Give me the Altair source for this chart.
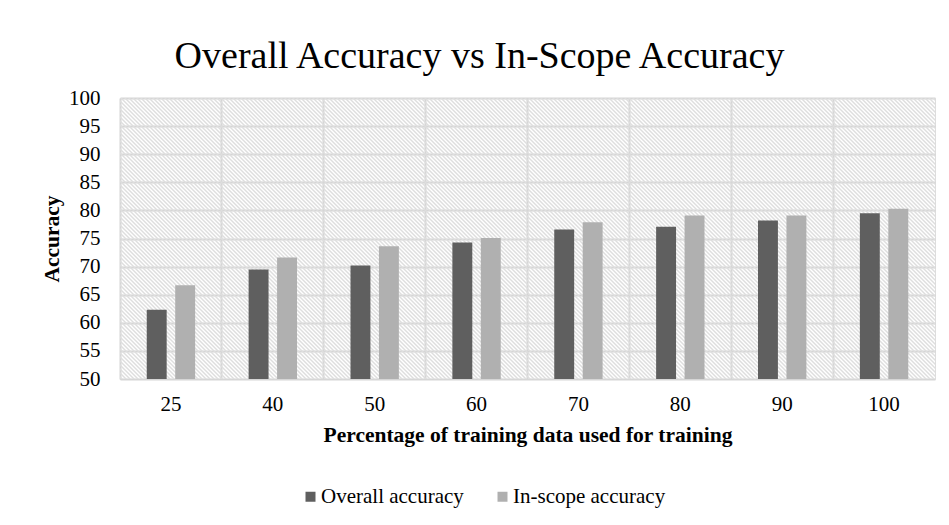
import altair as alt
import pandas as pd

# ---- data ----
pct = ["25", "40", "50", "60", "70", "80", "90", "100"]
overall = [62.3, 69.5, 70.2, 74.3, 76.6, 77.1, 78.2, 79.5]
inscope = [66.7, 71.6, 73.6, 75.1, 77.9, 79.1, 79.1, 80.3]
series = ["Overall accuracy", "In-scope accuracy"]
colors = ["#5f5f5f", "#b0b0b0"]
y_ticks = [50, 55, 60, 65, 70, 75, 80, 85, 90, 95, 100]

rows = []
for p, o, i in zip(pct, overall, inscope):
    rows.append({"pct": p, "series": series[0], "value": o})
    rows.append({"pct": p, "series": series[1], "value": i})
df = pd.DataFrame(rows)

W, H = 815, 281
FONT = "Liberation Serif"

# ---- diagonal hatch for the plot background (style only) ----
period = 4.0
n = int((W + H) / period)
stops = []
for k in range(2 * n + 1):
    off = k / (2 * n)
    col = "rgba(222,222,222,0)" if k % 2 == 0 else "rgba(222,222,222,1)"
    stops.append({"offset": round(off, 5), "color": col})
c = (W + H) / (W * W + H * H)
gx, gy = c * W, -c * H
hatch = {"gradient": "linear", "x1": 0, "y1": 1,
         "x2": round(gx, 5), "y2": round(1 + gy, 5), "stops": stops}

bg = alt.Chart(pd.DataFrame({"a": [0]})).mark_rect(fill=hatch, strokeWidth=0).encode(
    x=alt.value(0), x2=alt.value("width"), y=alt.value(0), y2=alt.value("height")
)

bars = alt.Chart(df).mark_bar().encode(
    x=alt.X("pct:N", sort=pct,
            scale=alt.Scale(paddingInner=0, paddingOuter=0),
            axis=alt.Axis(title="Percentage of training data used for training",
                          labelAngle=0, grid=True, bandPosition=0,
                          gridColor="#d6d6d6", gridWidth=2,
                          ticks=False, domain=False, labelPadding=14,
                          labelFontSize=21, labelFont=FONT, labelColor="#000000",
                          titleFontSize=21.5, titleFont=FONT, titleFontWeight="bold",
                          titleColor="#000000", titleBaseline="middle", titleY=56)),
    xOffset=alt.XOffset("series:N", sort=series,
                        scale=alt.Scale(paddingInner=0.3, paddingOuter=0.94)),
    y=alt.Y("value:Q",
            scale=alt.Scale(domain=[50, 100], zero=False, nice=False),
            axis=alt.Axis(title="Accuracy", values=y_ticks, grid=True,
                          gridColor="#d6d6d6", gridWidth=2,
                          ticks=False, domain=False, labelPadding=20,
                          labelFontSize=21, labelFont=FONT, labelColor="#000000",
                          titleFontSize=21.5, titleFont=FONT, titleFontWeight="bold",
                          titleColor="#000000", titleAngle=-90,
                          titleBaseline="middle", titleAlign="center",
                          titleX=-68, titleY=H / 2)),
    y2=alt.datum(50),
    color=alt.Color("series:N", sort=series,
                    scale=alt.Scale(domain=series, range=colors),
                    legend=alt.Legend(title=None, orient="none", direction="horizontal",
                                      legendX=180, legendY=388,
                                      symbolType="square", symbolSize=100,
                                      symbolStrokeWidth=0,
                                      labelFont=FONT, labelFontSize=21,
                                      labelColor="#000000", labelOffset=0,
                                      columnPadding=28)),
)

chart = alt.layer(bg, bars).properties(
    width=W, height=H,
    title=alt.TitleParams("Overall Accuracy vs In-Scope Accuracy",
                          font=FONT, fontSize=38, fontWeight="normal",
                          color="#000000", anchor="middle", frame="group",
                          dx=-48, offset=11),
    autosize=alt.AutoSizeParams(type="none"),
    padding={"left": 112, "top": 90, "right": 6, "bottom": 146},
).configure_view(
    stroke="#d6d6d6", strokeWidth=2
).configure(background="#ffffff", font=FONT)

chart.save("out.html", embed_options={"renderer": "svg", "actions": False})
